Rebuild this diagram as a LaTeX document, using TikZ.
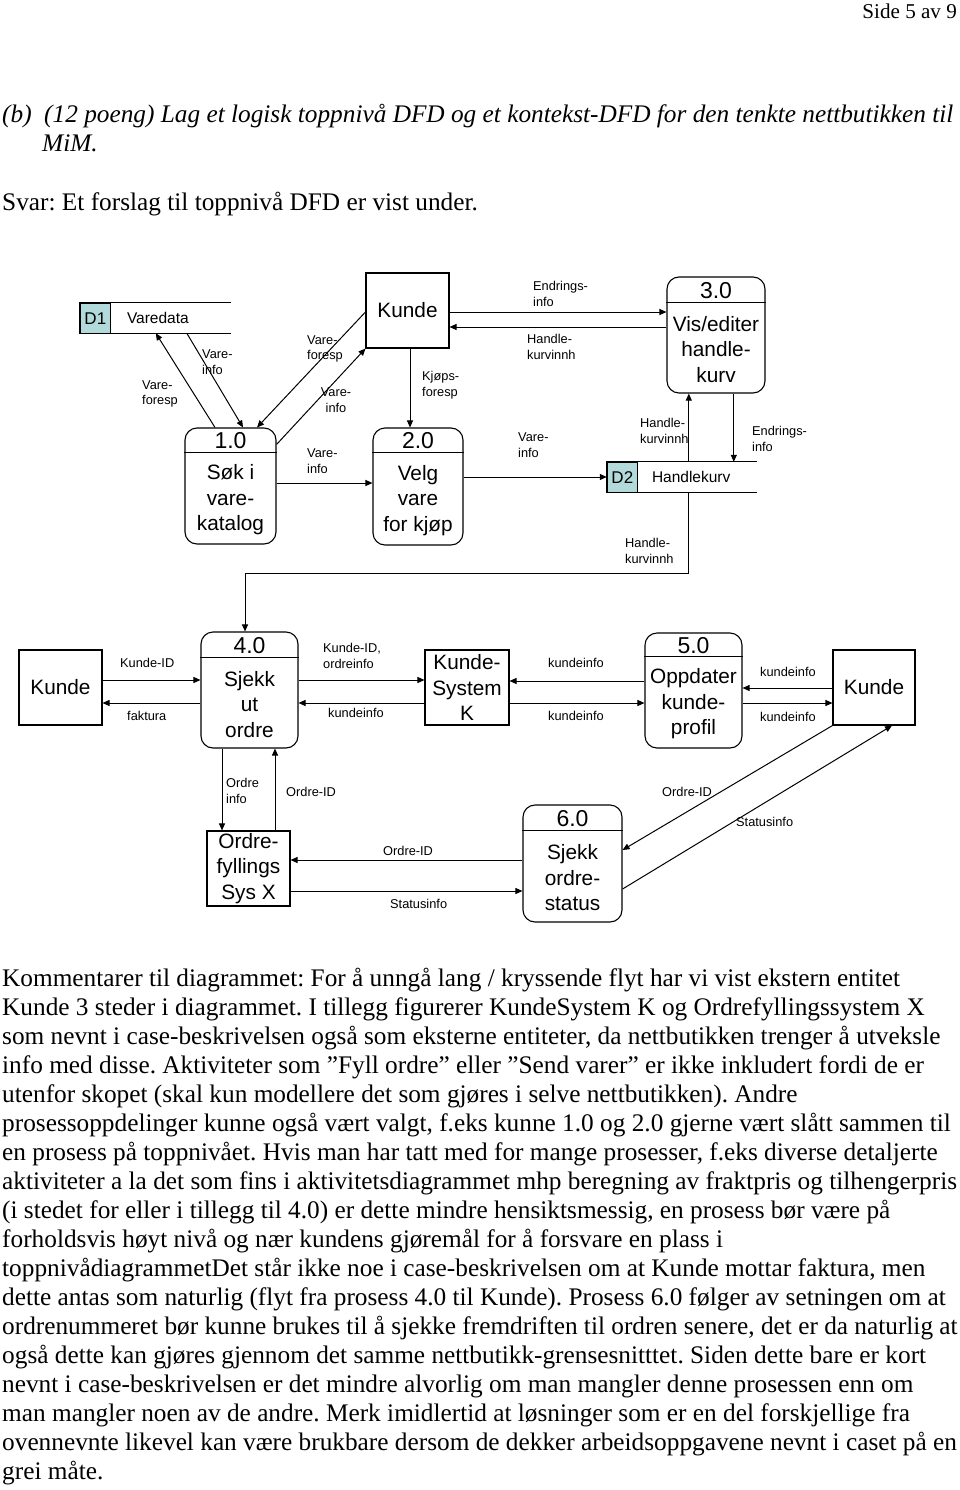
\documentclass[tikz,border=0pt]{standalone}
\usepackage{fontspec}
\setmainfont{Liberation Serif}
\setsansfont{Liberation Sans}
\usetikzlibrary{arrows.meta,calc}
\definecolor{storecol}{RGB}{178,218,218}
\frenchspacing
\newcommand\dfdproc[8]{%
  \node[procbox, minimum width=#4pt, minimum height=#5pt] (#1) at (#2,#3) {};
  \draw[boxline] ([yshift=-#6pt]#1.north west) -- ([yshift=-#6pt]#1.north east);
  \node[numtxt] (#1n) at ([yshift=-#6*0.5pt-1pt]#1.north) {#7};
  \node[bodytxt] (#1b) at ($([yshift=-#6pt]#1.north)!0.5!(#1.south)+(0,1.5)$) {#8};
}
\begin{document}
\begin{tikzpicture}[x=1pt,y=-1pt,
  boxline/.style={line width=1.1pt},
  procbox/.style={draw, line width=1.1pt, rounded corners=12pt, inner sep=0pt},
  entbox/.style={draw, line width=1.1pt, inner sep=0pt, minimum width=83pt, minimum height=75pt,
    font=\sffamily\fontsize{20.8}{25.5}\selectfont, align=center},
  numtxt/.style={inner sep=0pt, font=\sffamily\fontsize{23}{27}\selectfont},
  bodytxt/.style={inner sep=0pt, align=center, font=\sffamily\fontsize{20.8}{25.5}\selectfont},
  storenode/.style={inner sep=0pt},
  storeid/.style={draw, line width=1.1pt, fill=storecol, inner sep=0pt, font=\sffamily\fontsize{17}{20}\selectfont},
  storetxt/.style={inner sep=0pt, font=\sffamily\fontsize{15.5}{18}\selectfont},
  lab/.style={inner sep=0pt, anchor=west, align=left, font=\sffamily\fontsize{12.8}{15.5}\selectfont},
  labc/.style={inner sep=0pt, align=center, font=\sffamily\fontsize{12.8}{15.5}\selectfont},
  arr/.style={line width=1pt, -{Triangle[length=7pt,width=6pt]}},
  bodyline/.style={inner sep=0pt, anchor=base west, font=\fontsize{25.3}{29}\selectfont},
]
\useasboundingbox (0,0) rectangle (960,1490);
\fill[white] (0,0) rectangle (960,1490);

% ---------- page text ----------
\node[inner sep=0pt, anchor=base east, font=\fontsize{21.1}{25}\selectfont] (hdr) at (957,19) {Side 5 av 9};
\node[bodyline, font=\itshape\fontsize{25.3}{29}\selectfont] (qb) at (2,123) {(b)};
\node[bodyline, font=\itshape\fontsize{25.3}{29}\selectfont] (q1) at (44,123) {(12 poeng) Lag et logisk toppnivå DFD og et kontekst-DFD for den tenkte nettbutikken til};
\node[bodyline, font=\itshape\fontsize{25.3}{29}\selectfont] (q2) at (42,152) {MiM.};
\node[bodyline] (svar) at (2,210) {Svar: Et forslag til toppnivå DFD er vist under.};

% ---------- top diagram ----------
\node[entbox] (k1) at (407.5,310.5) {Kunde};
\dfdproc{p1}{230.5}{486}{91}{116}{25}{1.0}{Søk i\\vare-\\katalog}
\dfdproc{p2}{418}{486.5}{90}{117}{25}{2.0}{Velg\\vare\\for kjøp}
\dfdproc{p3}{716}{335}{98}{116}{26}{3.0}{Vis/editer\\handle-\\kurv}

\node[storenode, minimum width=151pt, minimum height=30pt] (d1) at (155.5,318) {};
\draw[boxline] (d1.north east) -- (d1.north west) -- (d1.south west) -- (d1.south east);
\node[storeid, minimum width=30pt, minimum height=30pt, anchor=north west] (d1id) at (d1.north west) {D1};
\node[storetxt, anchor=west] (d1t) at ([xshift=47pt]d1.west) {Varedata};

\node[storenode, minimum width=150pt, minimum height=30pt] (d2) at (682,477) {};
\draw[boxline] (d2.north east) -- (d2.north west) -- (d2.south west) -- (d2.south east);
\node[storeid, minimum width=30pt, minimum height=30pt, anchor=north west] (d2id) at (d2.north west) {D2};
\node[storetxt, anchor=west] (d2t) at ([xshift=45pt]d2.west) {Handlekurv};

% ---------- bottom diagram nodes ----------
\node[entbox] (k2) at (60.5,687.5) {Kunde};
\node[entbox, minimum width=84pt] (ks) at (467,687.5) {Kunde-\\System\\K};
\node[entbox, minimum width=82pt] (k3) at (874,687.5) {Kunde};
\node[entbox] (of) at (248.5,868.5) {Ordre-\\fyllings\\Sys X};
\dfdproc{p4}{249.5}{690}{97}{116}{26}{4.0}{Sjekk\\ut\\ordre}
\dfdproc{p5}{693.5}{690.5}{97}{115}{24}{5.0}{Oppdater\\kunde-\\profil}
\dfdproc{p6}{572.5}{863.5}{99}{117}{26}{6.0}{Sjekk\\ordre-\\status}

% ---------- top connectors ----------
\draw[arr] ([xshift=-15.5pt]p1.north) -- ([xshift=76pt]d1.south west);
\draw[arr] ([xshift=107pt]d1.south west) -- ([xshift=12.5pt]p1.north);
\draw[arr] ([yshift=-1.5pt]k1.west) -- ([xshift=26.5pt]p1.north);
\draw[arr] ([yshift=-17pt]p1.north east) -- (k1.south west);
\draw[arr] ([yshift=3pt]p1.east) -- ([yshift=3pt]p1.east -| p2.west);
\draw[arr] ([xshift=2.5pt]k1.south) -- ([xshift=2.5pt]k1.south |- p2.north);
\draw[arr] ([yshift=-1.5pt]k1.east) -- ([yshift=-1.5pt]k1.east -| p3.west);
\draw[arr] ([yshift=-16.5pt]k1.east -| p3.west) -- ([yshift=-16.5pt]k1.east);
\draw[arr] ([yshift=9.5pt]p2.east) -- ([yshift=9.5pt]p2.east -| d2.west);
\draw[arr] ([xshift=82pt]d2.north west) -- ([xshift=82pt]d2.north west |- p3.south);
\draw[arr] ([xshift=127pt]d2.north west |- p3.south) -- ([xshift=127pt]d2.north west);
\draw[arr] ([xshift=82pt]d2.south west) -- ++(0,81) -| ([xshift=-4.5pt]p4.north);

\node[lab] (l1) at (142,394) {Vare-\\foresp};
\node[lab] (l2) at (202,362) {Vare-\\info};
\node[lab] (l3) at (307,349) {Vare-\\foresp};
\node[labc] (l4) at (336,400) {Vare-\\info};
\node[lab] (l5) at (307,461) {Vare-\\info};
\node[lab] (l6) at (422,385) {Kjøps-\\foresp};
\node[lab] (l7) at (533,294) {Endrings-\\info};
\node[lab] (l8) at (527,347) {Handle-\\kurvinnh};
\node[lab] (l9) at (518,445) {Vare-\\info};
\node[lab] (l10) at (640,431) {Handle-\\kurvinnh};
\node[lab] (l11) at (752,439) {Endrings-\\info};
\node[lab] (l12) at (625,551) {Handle-\\kurvinnh};

% ---------- bottom connectors ----------
\draw[arr] ([yshift=7.5pt]k2.east) -- ([yshift=7.5pt]k2.east -| p4.west);
\draw[arr] ([yshift=-15.5pt]k2.east -| p4.west) -- ([yshift=-15.5pt]k2.east);
\draw[arr] ([yshift=7.5pt]ks.west -| p4.east) -- ([yshift=7.5pt]ks.west);
\draw[arr] ([yshift=-15.5pt]ks.west) -- ([yshift=-15.5pt]ks.west -| p4.east);
\draw[arr] ([yshift=6.5pt]ks.east -| p5.west) -- ([yshift=6.5pt]ks.east);
\draw[arr] ([yshift=-15.5pt]ks.east) -- ([yshift=-15.5pt]ks.east -| p5.west);
\draw[arr] ([yshift=-0.5pt]k3.west) -- ([yshift=-0.5pt]k3.west -| p5.east);
\draw[arr] ([yshift=-15.5pt]k3.west -| p5.east) -- ([yshift=-15.5pt]k3.west);
\draw[arr] (k3.south west) -- ([yshift=13.5pt]p6.east);
\draw[arr] ([yshift=-25.5pt]p6.east) -- ([xshift=18pt]k3.south);
\draw[arr] ([xshift=-27.5pt]p4.south) -- ([xshift=-27.5pt]p4.south |- of.north);
\draw[arr] ([xshift=25.5pt]p4.south |- of.north) -- ([xshift=25.5pt]p4.south);
\draw[arr] ([yshift=8.5pt]of.east -| p6.west) -- ([yshift=8.5pt]of.east);
\draw[arr] ([yshift=-22.5pt]of.east) -- ([yshift=-22.5pt]of.east -| p6.west);

\node[lab] (l13) at (120,663) {Kunde-ID};
\node[lab] (l14) at (127,716) {faktura};
\node[lab] (l15) at (323,656) {Kunde-ID,\\ordreinfo};
\node[lab] (l16) at (328,713) {kundeinfo};
\node[lab] (l17) at (548,663) {kundeinfo};
\node[lab] (l18) at (548,716) {kundeinfo};
\node[lab] (l19) at (760,672) {kundeinfo};
\node[lab] (l20) at (760,717) {kundeinfo};
\node[lab] (l21) at (226,791) {Ordre\\info};
\node[lab] (l22) at (286,792) {Ordre-ID};
\node[lab] (l23) at (383,851) {Ordre-ID};
\node[lab] (l24) at (390,904) {Statusinfo};
\node[lab] (l25) at (662,792) {Ordre-ID};
\node[lab] (l26) at (736,822) {Statusinfo};

% ---------- comment text ----------
\node[bodyline] (t1) at (2,986) {Kommentarer til diagrammet: For å unngå lang / kryssende flyt har vi vist ekstern entitet};
\node[bodyline] (t2) at (2,1015) {Kunde 3 steder i diagrammet. I tillegg figurerer KundeSystem K og Ordrefyllingssystem X};
\node[bodyline] (t3) at (2,1044) {som nevnt i case-beskrivelsen også som eksterne entiteter, da nettbutikken trenger å utveksle};
\node[bodyline] (t4) at (2,1073) {info med disse. Aktiviteter som ”Fyll ordre” eller ”Send varer” er ikke inkludert fordi de er};
\node[bodyline] (t5) at (2,1102) {utenfor skopet (skal kun modellere det som gjøres i selve nettbutikken). Andre};
\node[bodyline] (t6) at (2,1131) {prosessoppdelinger kunne også vært valgt, f.eks kunne 1.0 og 2.0 gjerne vært slått sammen til};
\node[bodyline] (t7) at (2,1160) {en prosess på toppnivået. Hvis man har tatt med for mange prosesser, f.eks diverse detaljerte};
\node[bodyline] (t8) at (2,1189) {aktiviteter a la det som fins i aktivitetsdiagrammet mhp beregning av fraktpris og tilhengerpris};
\node[bodyline] (t9) at (2,1218) {(i stedet for eller i tillegg til 4.0) er dette mindre hensiktsmessig, en prosess bør være på};
\node[bodyline] (t10) at (2,1247) {forholdsvis høyt nivå og nær kundens gjøremål for å forsvare en plass i};
\node[bodyline] (t11) at (2,1276) {toppnivådiagrammetDet står ikke noe i case-beskrivelsen om at Kunde mottar faktura, men};
\node[bodyline] (t12) at (2,1305) {dette antas som naturlig (flyt fra prosess 4.0 til Kunde). Prosess 6.0 følger av setningen om at};
\node[bodyline] (t13) at (2,1334) {ordrenummeret bør kunne brukes til å sjekke fremdriften til ordren senere, det er da naturlig at};
\node[bodyline] (t14) at (2,1363) {også dette kan gjøres gjennom det samme nettbutikk-grensesnitttet. Siden dette bare er kort};
\node[bodyline] (t15) at (2,1392) {nevnt i case-beskrivelsen er det mindre alvorlig om man mangler denne prosessen enn om};
\node[bodyline] (t16) at (2,1421) {man mangler noen av de andre. Merk imidlertid at løsninger som er en del forskjellige fra};
\node[bodyline] (t17) at (2,1450) {ovennevnte likevel kan være brukbare dersom de dekker arbeidsoppgavene nevnt i caset på en};
\node[bodyline] (t18) at (2,1479) {grei måte.};
\end{tikzpicture}
\end{document}
